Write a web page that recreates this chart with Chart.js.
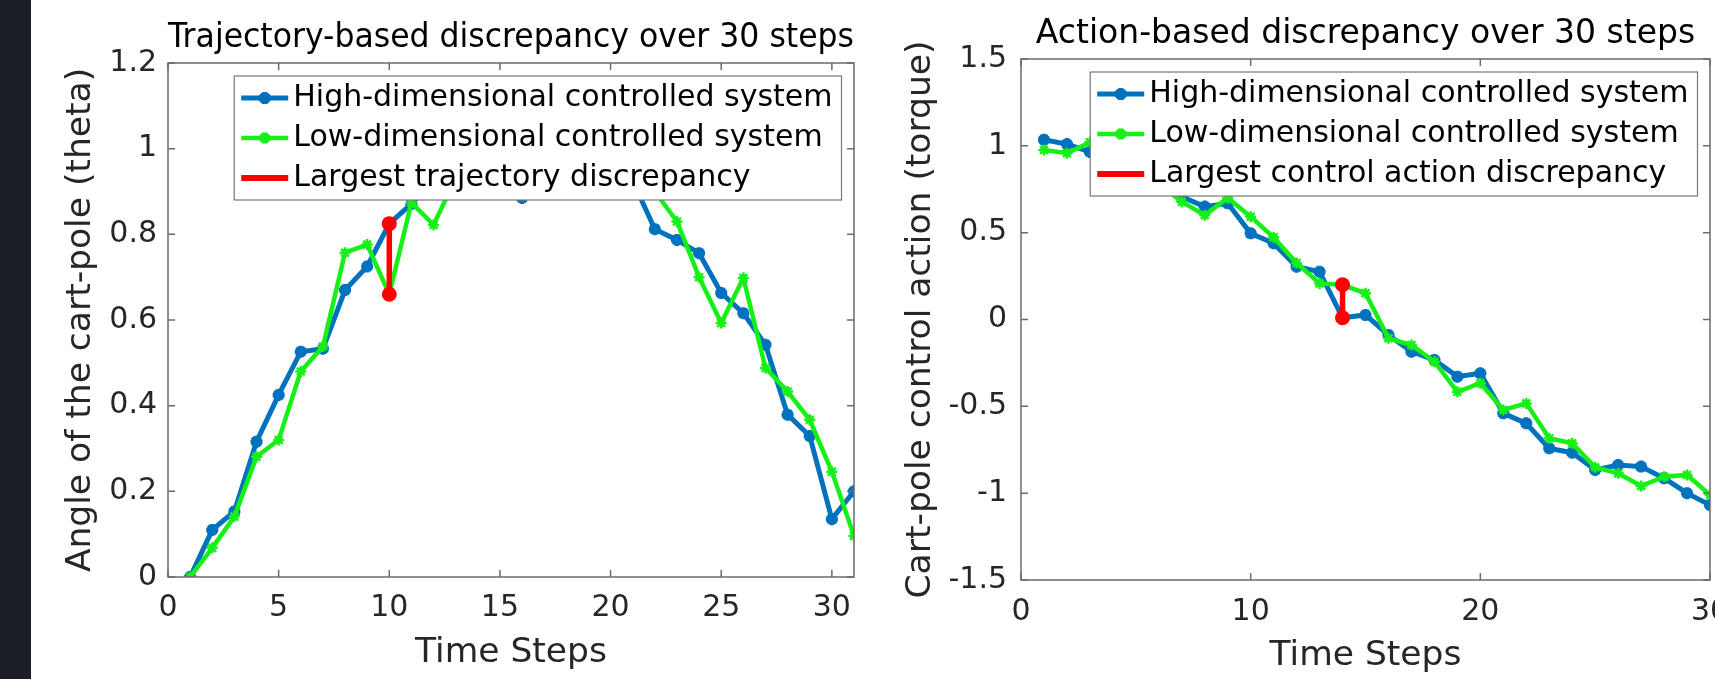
<!DOCTYPE html>
<html>
<head>
<meta charset="utf-8">
<script src="https://cdn.jsdelivr.net/npm/chart.js@4/dist/chart.umd.min.js"></script>
<style>
  html, body { margin: 0; padding: 0; background: #fff; overflow: hidden; width: 1715px; height: 679px; }
  #strip { position: absolute; left: 0; top: 0; width: 31px; height: 679px; background: #1b1e25; }
  #left { position: absolute; left: 0; top: 0; }
  #right { position: absolute; left: 870px; top: 0; }
</style>
</head>
<body>
<div id="strip"></div>
<canvas id="left" width="870" height="679"></canvas>
<canvas id="right" width="900" height="679"></canvas>
<script>
// trajectory chart (theta)
const trajSteps = [1, 2, 3, 4, 5, 6, 7, 8, 9, 10, 11, 12, 13, 14, 15, 16, 17, 18, 19, 20, 21, 22, 23, 24, 25, 26, 27, 28, 29, 30, 31];
const trajHigh = [0, 0.11, 0.153, 0.316, 0.425, 0.526, 0.533, 0.67, 0.725, 0.825, 0.871, 0.93, 0.96, 0.97, 0.94, 0.885, 0.95, 0.98, 1.0, 0.97, 0.925, 0.812, 0.787, 0.756, 0.663, 0.616, 0.542, 0.379, 0.329, 0.135, 0.2];
const trajLow = [0, 0.068, 0.141, 0.281, 0.32, 0.48, 0.538, 0.757, 0.776, 0.66, 0.874, 0.822, 0.93, 0.95, 0.98, 0.96, 0.99, 1.0, 0.98, 0.96, 0.94, 0.9, 0.83, 0.7, 0.593, 0.698, 0.488, 0.433, 0.367, 0.246, 0.096];
const trajGapSteps = [10, 10];
const trajGapValues = [0.825, 0.66];
const trajXTicks = [0, 5, 10, 15, 20, 25, 30];
const trajYTicks = [0, 0.2, 0.4, 0.6, 0.8, 1, 1.2];

// control action chart (torque)
const actSteps = [1, 2, 3, 4, 5, 6, 7, 8, 9, 10, 11, 12, 13, 14, 15, 16, 17, 18, 19, 20, 21, 22, 23, 24, 25, 26, 27, 28, 29, 30];
const actHigh = [1.035, 1.01, 0.965, 0.93, 0.87, 0.8, 0.707, 0.65, 0.669, 0.496, 0.439, 0.304, 0.275, 0.01, 0.026, -0.089, -0.185, -0.233, -0.329, -0.31, -0.54, -0.598, -0.742, -0.767, -0.866, -0.838, -0.847, -0.914, -1.0, -1.068];
const actLow = [0.976, 0.957, 1.02, 0.97, 0.88, 0.78, 0.678, 0.6, 0.7, 0.592, 0.473, 0.325, 0.208, 0.2, 0.151, -0.108, -0.147, -0.243, -0.416, -0.367, -0.521, -0.483, -0.684, -0.713, -0.851, -0.886, -0.959, -0.905, -0.895, -1.01];
const actGapSteps = [14, 14];
const actGapValues = [0.2, 0.01];
const actXTicks = [0, 10, 20, 30];
const actYTicks = [-1.5, -1, -0.5, 0, 0.5, 1, 1.5];

const BLUE = '#0072BD';
const GREEN = '#17f017';
const RED = '#ff0000';

Chart.defaults.font.family = '"DejaVu Sans", sans-serif';
Chart.defaults.color = '#262626';

function pts(xs, ys) {
  return xs.map((x, i) => ({ x: x, y: ys[i] }));
}

function fmt(v) {
  return String(Math.round(v * 100) / 100);
}

// box round the axes, ticks pointing in, and a MATLAB style legend
const matlabAxes = {
  id: 'matlabAxes',
  afterDatasetsDraw(chart, args, opts) {
    const ctx = chart.ctx;
    const a = chart.chartArea;
    const xs = chart.scales.x, ys = chart.scales.y;
    ctx.save();
    ctx.strokeStyle = '#6b6b6b';
    ctx.lineWidth = 1.5;
    ctx.strokeRect(a.left, a.top, a.right - a.left, a.bottom - a.top);
    ctx.beginPath();
    xs.ticks.forEach(t => {
      const px = xs.getPixelForValue(t.value);
      ctx.moveTo(px, a.bottom); ctx.lineTo(px, a.bottom - 7);
      ctx.moveTo(px, a.top); ctx.lineTo(px, a.top + 7);
    });
    ys.ticks.forEach(t => {
      const py = ys.getPixelForValue(t.value);
      ctx.moveTo(a.left, py); ctx.lineTo(a.left + 7, py);
      ctx.moveTo(a.right, py); ctx.lineTo(a.right - 7, py);
    });
    ctx.stroke();

    const items = opts.items || [];
    ctx.font = '30px "DejaVu Sans"';
    const textW = Math.max(...items.map(it => ctx.measureText(it.label).width));
    const w = 7 + 47 + 5 + textW + 9;
    const h = 124;
    const right = a.right - 12.5;
    const left = right - w;
    const top = a.top + 13;
    ctx.fillStyle = '#fff';
    ctx.fillRect(left, top, w, h);
    ctx.strokeStyle = '#777';
    ctx.lineWidth = 1.2;
    ctx.strokeRect(left, top, w, h);
    items.forEach((it, k) => {
      const cy = top + 22 + 40 * k;
      ctx.strokeStyle = it.color;
      ctx.lineWidth = it.width;
      ctx.beginPath();
      ctx.moveTo(left + 7, cy); ctx.lineTo(left + 54, cy);
      ctx.stroke();
      if (it.marker) {
        Chart.helpers.drawPoint(ctx, { pointStyle: 'star', radius: it.marker, borderWidth: it.mw }, left + 30.5, cy);
      }
      ctx.fillStyle = '#000';
      ctx.textBaseline = 'middle';
      ctx.textAlign = 'left';
      ctx.fillText(it.label, left + 59, cy);
    });
    ctx.restore();
  }
};

function makeChart(id, cfg) {
  return new Chart(document.getElementById(id), {
    type: 'line',
    data: {
      datasets: [
        {
          label: 'High-dimensional controlled system',
          data: pts(cfg.steps, cfg.high),
          borderColor: BLUE, backgroundColor: BLUE, borderWidth: 5,
          pointStyle: 'star', pointRadius: 6, pointBorderWidth: 4,
          order: 3
        },
        {
          label: 'Low-dimensional controlled system',
          data: pts(cfg.steps, cfg.low),
          borderColor: GREEN, backgroundColor: GREEN, borderWidth: 4.5,
          pointStyle: 'star', pointRadius: 5.5, pointBorderWidth: 2.5,
          order: 2
        },
        {
          label: cfg.gapLabel,
          data: pts(cfg.gapSteps, cfg.gapValues),
          borderColor: RED, backgroundColor: RED, borderWidth: 5.5,
          pointStyle: 'circle', pointRadius: 7.5, pointBorderWidth: 0,
          order: 1
        }
      ]
    },
    options: {
      responsive: false,
      animation: false,
      devicePixelRatio: 1,
      layout: { padding: { left: 0, top: 0, bottom: 0, right: cfg.padRight } },
      elements: { line: { tension: 0 } },
      plugins: {
        legend: { display: false },
        tooltip: { enabled: false },
        title: {
          display: true,
          text: cfg.title,
          color: '#000',
          fullSize: false,
          font: { size: 33, weight: 'normal', lineHeight: 1 },
          padding: { top: cfg.titleTop, bottom: cfg.titleBottom }
        },
        matlabAxes: {
          items: [
            { label: 'High-dimensional controlled system', color: BLUE, width: 5, marker: 6, mw: 4 },
            { label: 'Low-dimensional controlled system', color: GREEN, width: 4.5, marker: 5.5, mw: 2.5 },
            { label: cfg.gapLabel, color: RED, width: 6 }
          ]
        }
      },
      scales: {
        x: {
          type: 'linear',
          min: cfg.xMin, max: cfg.xMax,
          grid: { display: false, drawTicks: false },
          border: { display: false },
          afterBuildTicks: s => { s.ticks = cfg.xTicks.map(v => ({ value: v })); },
          afterFit: s => { s.height = cfg.xHeight; },
          ticks: { font: { size: 30, lineHeight: 1 }, padding: cfg.xTickPad, maxRotation: 0, callback: fmt },
          title: {
            display: true, text: 'Time Steps', color: '#262626',
            font: { size: 34.5, lineHeight: 1 },
            padding: { top: 0, bottom: cfg.xTitleBottom }
          }
        },
        y: {
          type: 'linear',
          min: cfg.yMin, max: cfg.yMax,
          grid: { display: false, drawTicks: false },
          border: { display: false },
          afterBuildTicks: s => { s.ticks = cfg.yTicks.map(v => ({ value: v })); },
          afterFit: s => { s.width = cfg.yWidth; },
          ticks: { font: { size: 30, lineHeight: 1 }, padding: cfg.yTickPad, callback: fmt },
          title: {
            display: true, text: cfg.yLabel, color: '#262626',
            font: { size: 34.5, lineHeight: 1 },
            padding: { top: cfg.yTitleTop, bottom: 0 }
          }
        }
      }
    },
    plugins: [matlabAxes]
  });
}

makeChart('left', {
  title: 'Trajectory-based discrepancy over 30 steps',
  yLabel: 'Angle of the cart-pole (theta)',
  gapLabel: 'Largest trajectory discrepancy',
  steps: trajSteps, high: trajHigh, low: trajLow,
  gapSteps: trajGapSteps, gapValues: trajGapValues,
  xTicks: trajXTicks, yTicks: trajYTicks,
  xMin: 0, xMax: 31, yMin: 0, yMax: 1.2,
  padRight: 16, titleTop: 21.5, titleBottom: 8.5,
  xHeight: 102, xTickPad: 16, xTitleBottom: 8.75,
  yWidth: 168, yTickPad: 11, yTitleTop: 63.4
});

makeChart('right', {
  title: 'Action-based discrepancy over 30 steps',
  yLabel: 'Cart-pole control action (torque)',
  gapLabel: 'Largest control action discrepancy',
  steps: actSteps, high: actHigh, low: actLow,
  gapSteps: actGapSteps, gapValues: actGapValues,
  xTicks: actXTicks, yTicks: actYTicks,
  xMin: 0, xMax: 30, yMin: -1.5, yMax: 1.5,
  padRight: 60, titleTop: 17.5, titleBottom: 8.5,
  xHeight: 99, xTickPad: 17, xTitleBottom: 5.75,
  yWidth: 151, yTickPad: 14, yTitleTop: 33.4
});
</script>
</body>
</html>
